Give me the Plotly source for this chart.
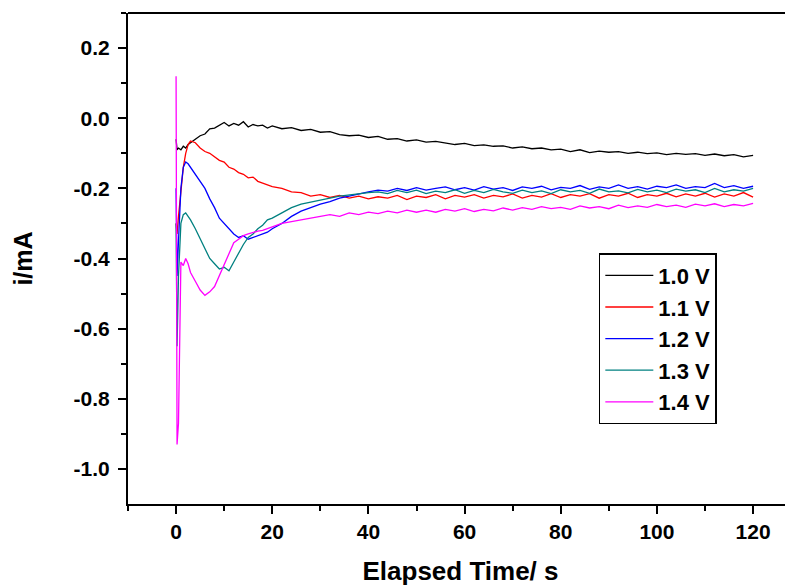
import plotly.graph_objects as go

# Elapsed time (s)
time_s = [0, 0.2, 0.5, 1, 1.5, 2, 2.5, 3, 4, 5, 6, 7, 8, 9, 10, 11, 12, 13, 14, 15, 16, 17, 18, 19, 20,
          22, 24, 26, 28, 30, 32, 34, 36, 38, 40, 42, 44, 46, 48, 50, 52, 54, 56, 58, 60,
          62, 64, 66, 68, 70, 72, 74, 76, 78, 80, 82, 84, 86, 88, 90, 92, 94, 96, 98, 100,
          102, 104, 106, 108, 110, 112, 114, 116, 118, 120]

# Current (mA) per applied potential
i_10V = [-0.06, -0.09, -0.085, -0.09, -0.08, -0.085, -0.075, -0.07, -0.06, -0.05, -0.045, -0.03, -0.028, -0.02, -0.012,
         -0.022, -0.015, -0.02, -0.01, -0.025, -0.018, -0.022, -0.02, -0.028, -0.022,
         -0.03, -0.027, -0.035, -0.032, -0.04, -0.038, -0.047, -0.05, -0.048, -0.055, -0.052, -0.06, -0.058, -0.065, -0.062,
         -0.068, -0.066, -0.07, -0.075, -0.072, -0.078, -0.076, -0.08, -0.079, -0.085, -0.082, -0.087, -0.085, -0.09, -0.088,
         -0.095, -0.09, -0.098, -0.094, -0.097, -0.095, -0.1, -0.097, -0.101, -0.099, -0.104, -0.1, -0.103, -0.101, -0.106,
         -0.102, -0.107, -0.104, -0.11, -0.106]
i_11V = [-0.3, -0.33, -0.28, -0.2, -0.14, -0.1, -0.075, -0.065, -0.07, -0.085, -0.095, -0.1, -0.11, -0.12, -0.125,
         -0.14, -0.145, -0.155, -0.16, -0.17, -0.168, -0.18, -0.185, -0.19, -0.195,
         -0.2, -0.21, -0.212, -0.222, -0.218, -0.226, -0.22, -0.228, -0.222, -0.23, -0.224, -0.228, -0.22, -0.232, -0.222,
         -0.226, -0.218, -0.23, -0.22, -0.225, -0.218, -0.228, -0.22, -0.224, -0.216, -0.228, -0.22, -0.225, -0.215, -0.226,
         -0.218, -0.222, -0.215, -0.228, -0.218, -0.222, -0.214, -0.226, -0.218, -0.222, -0.214, -0.224, -0.216, -0.222, -0.214,
         -0.225, -0.216, -0.222, -0.212, -0.225]
i_12V = [-0.2, -0.45, -0.35, -0.2, -0.14, -0.125, -0.13, -0.14, -0.16, -0.18, -0.2, -0.23, -0.255, -0.285, -0.3,
         -0.315, -0.33, -0.34, -0.335, -0.345, -0.34, -0.335, -0.33, -0.325, -0.315,
         -0.3, -0.28, -0.265, -0.255, -0.245, -0.238, -0.228, -0.222, -0.215, -0.21, -0.205, -0.208, -0.2, -0.206, -0.198,
         -0.205, -0.2, -0.196, -0.204, -0.198, -0.205, -0.195, -0.202, -0.198, -0.206, -0.196, -0.2, -0.194, -0.204, -0.197,
         -0.2, -0.192, -0.203, -0.196, -0.2, -0.19, -0.2, -0.195, -0.202, -0.194, -0.198, -0.19, -0.2, -0.195, -0.198,
         -0.186, -0.198, -0.192, -0.2, -0.194]
i_13V = [-0.3, -0.65, -0.45, -0.3, -0.275, -0.27, -0.28, -0.29, -0.315, -0.345, -0.37, -0.4, -0.415, -0.43, -0.425,
         -0.435, -0.41, -0.385, -0.36, -0.34, -0.33, -0.315, -0.305, -0.29, -0.285,
         -0.27, -0.255, -0.245, -0.24, -0.235, -0.228, -0.222, -0.218, -0.215, -0.212, -0.21, -0.215, -0.206, -0.212, -0.205,
         -0.215, -0.208, -0.212, -0.204, -0.214, -0.206, -0.212, -0.203, -0.21, -0.214, -0.205, -0.212, -0.207, -0.215, -0.204,
         -0.21, -0.206, -0.214, -0.202, -0.21, -0.207, -0.213, -0.203, -0.21, -0.205, -0.212, -0.202, -0.208, -0.204, -0.212,
         -0.2, -0.21, -0.204, -0.208, -0.2]
i_14V = [0.12, -0.93, -0.87, -0.41, -0.42, -0.4, -0.415, -0.44, -0.465, -0.49, -0.505, -0.495, -0.48, -0.45, -0.42,
         -0.385, -0.355, -0.345, -0.335, -0.33, -0.325, -0.322, -0.32, -0.315, -0.31,
         -0.3, -0.295, -0.29, -0.285, -0.278, -0.275, -0.28, -0.27, -0.275, -0.268, -0.272, -0.265, -0.27, -0.262, -0.268,
         -0.262, -0.268, -0.26, -0.265, -0.258, -0.266, -0.26, -0.264, -0.256, -0.262, -0.255, -0.26, -0.252, -0.258, -0.254,
         -0.26, -0.25, -0.256, -0.252, -0.258, -0.248, -0.255, -0.25, -0.254, -0.246, -0.252, -0.248, -0.254, -0.245, -0.25,
         -0.244, -0.252, -0.246, -0.25, -0.243]

series_names = ["1.0 V", "1.1 V", "1.2 V", "1.3 V", "1.4 V"]
series_values = [i_10V, i_11V, i_12V, i_13V, i_14V]
series_colors = ["#000000", "#ff0000", "#0000ff", "#008080", "#ff00ff"]

x_ticks = [0, 20, 40, 60, 80, 100, 120]
y_ticks = [0.2, 0.0, -0.2, -0.4, -0.6, -0.8, -1.0]
y_ticktext = ["0.2", "0.0", "-0.2", "-0.4", "-0.6", "-0.8", "-1.0"]

FONT = "Arial, Liberation Sans, sans-serif"

fig = go.Figure()
for name, vals, col in zip(series_names, series_values, series_colors):
    fig.add_trace(go.Scatter(x=time_s, y=vals, mode="lines", name=name,
                             line=dict(color=col, width=1.3)))

# the page body adds an 8px margin, so the figure is 8px smaller and margins compensate
fig.update_layout(
    width=785, height=578,
    margin=dict(l=120, r=0, t=5, b=82, autoexpand=False),
    paper_bgcolor="white", plot_bgcolor="white",
    font=dict(family=FONT, color="black"),
    showlegend=True,
    legend=dict(x=0.708, y=0.511, xanchor="left", yanchor="top",
                bgcolor="white", bordercolor="black", borderwidth=1.5,
                font=dict(family=FONT, size=22, weight="bold", color="black"),
                itemwidth=48, tracegroupgap=0),
    xaxis=dict(range=[-10, 128.3], showgrid=False, zeroline=False, automargin=False,
               showline=True, linecolor="black", linewidth=2,
               ticks="outside", ticklen=8, tickwidth=2, tickcolor="black",
               tickvals=x_ticks, ticktext=[str(v) for v in x_ticks],
               tickfont=dict(family=FONT, size=21, weight="bold"),
               minor=dict(tickvals=[-10, 10, 30, 50, 70, 90, 110], ticks="outside", ticklen=5, tickwidth=2, tickcolor="black"),
               title=dict(text="Elapsed Time/ s", font=dict(family=FONT, size=26, weight="bold"), standoff=33)),
    yaxis=dict(range=[-1.1, 0.3], showgrid=False, zeroline=False, automargin=False,
               showline=True, linecolor="black", linewidth=2,
               ticks="outside", ticklen=8, tickwidth=2, tickcolor="black",
               tickvals=y_ticks, ticktext=y_ticktext, ticklabelstandoff=4,
               tickfont=dict(family=FONT, size=21, weight="bold"),
               minor=dict(tickvals=[0.3, 0.1, -0.1, -0.3, -0.5, -0.7, -0.9], ticks="outside", ticklen=5, tickwidth=2, tickcolor="black"),
               title=dict(text="i/mA", font=dict(family=FONT, size=25, weight="bold"), standoff=34)),
)
# top frame line
fig.add_shape(type="line", xref="paper", yref="paper", x0=0, x1=1, y0=1, y1=1,
              line=dict(color="black", width=2))

fig.write_html("out.html")
